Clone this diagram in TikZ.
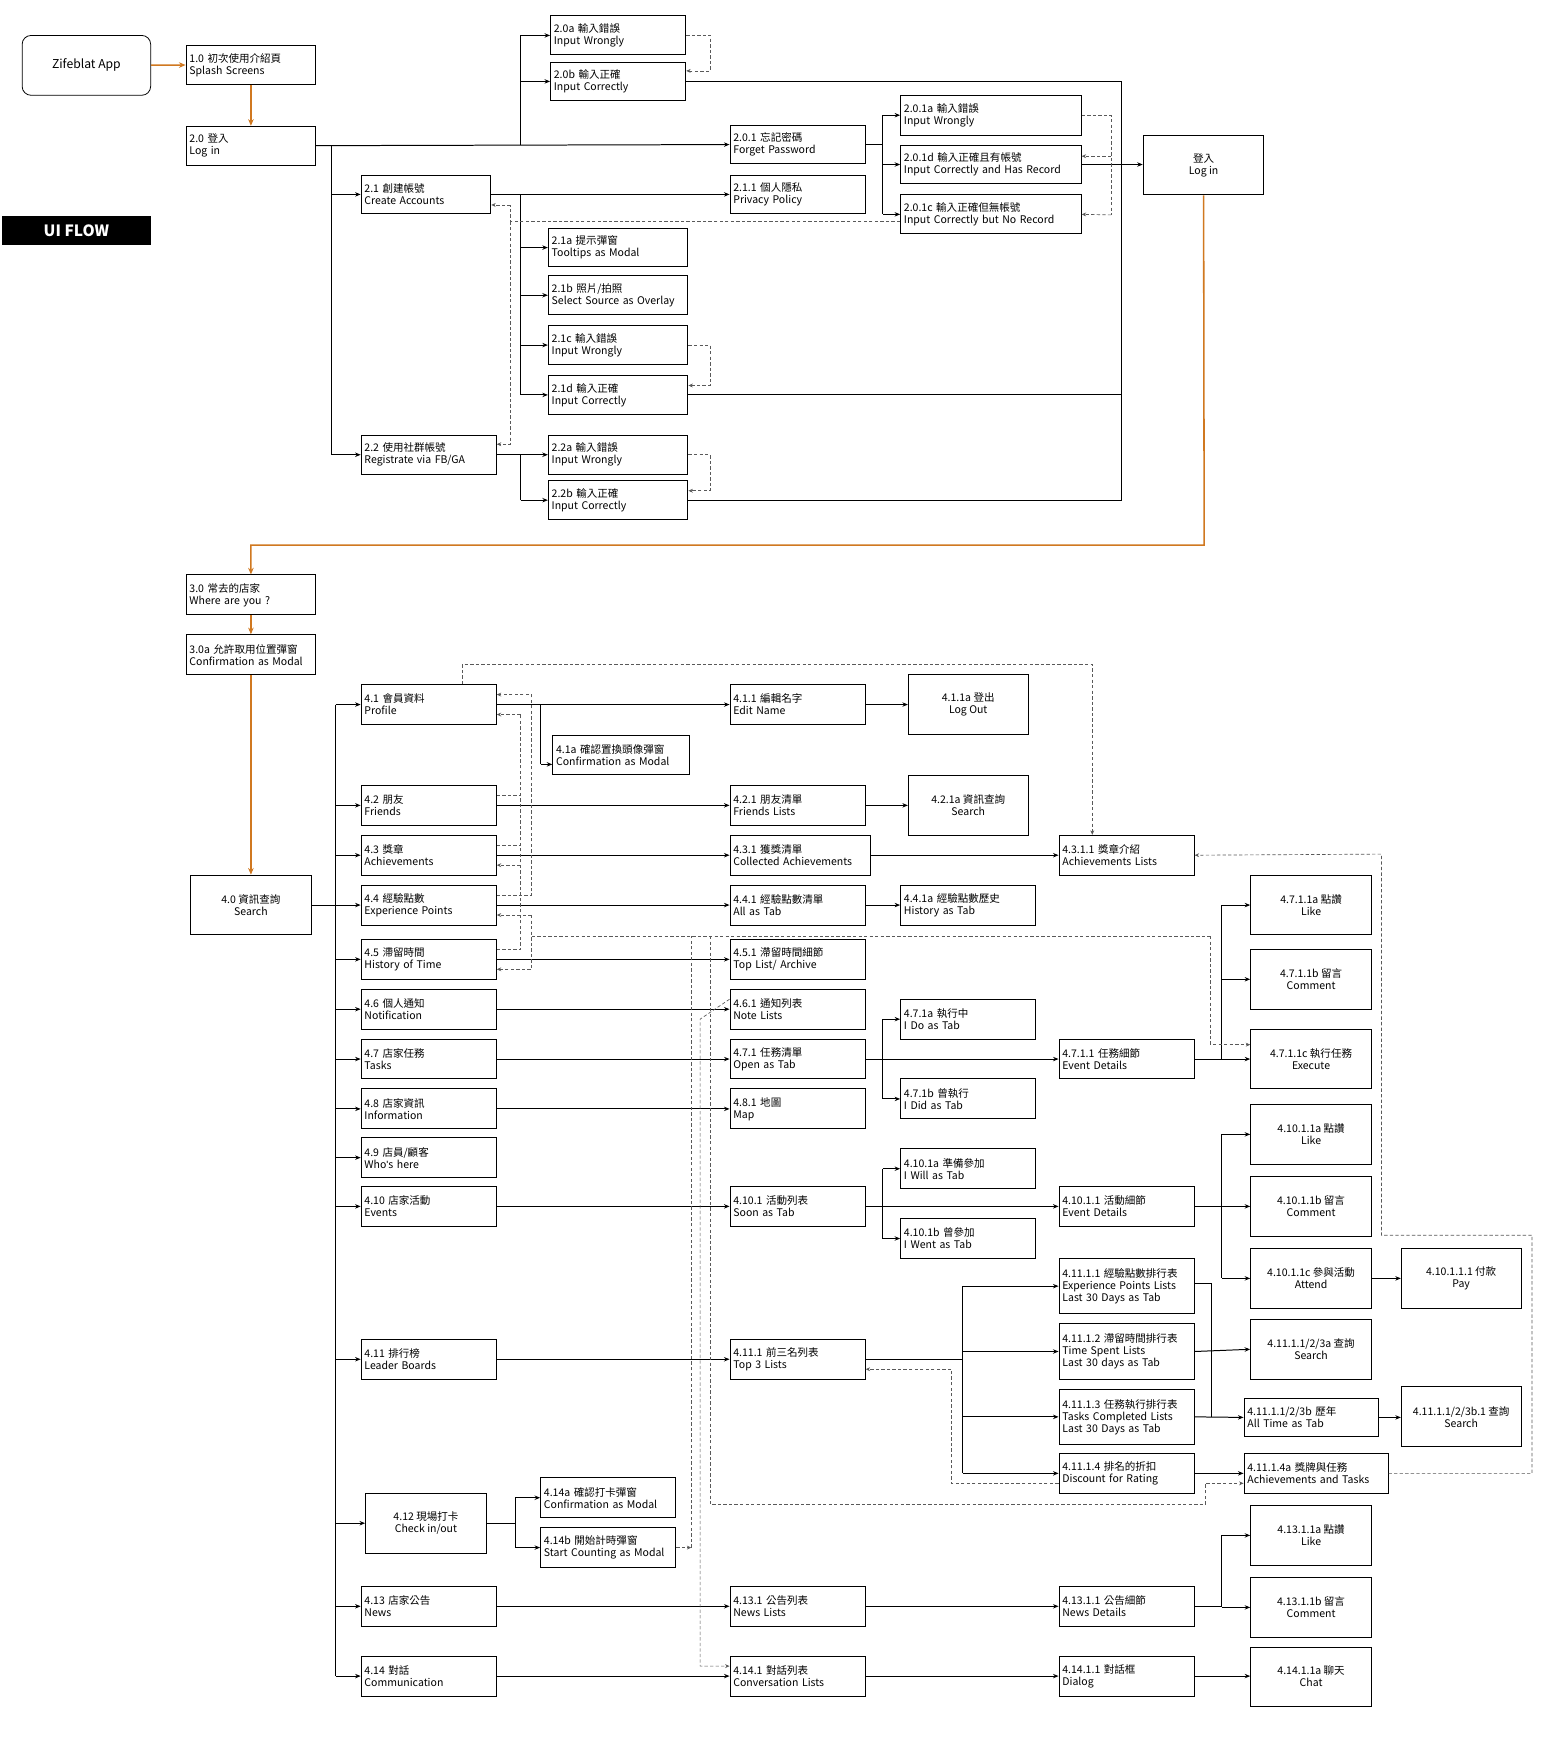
\documentclass[tikz,border=0pt]{standalone}
\usepackage{fontspec}
\setmainfont{Noto Sans CJK TC}
\newfontfamily\lat{Liberation Sans}
\usetikzlibrary{arrows.meta}
\definecolor{org}{HTML}{D07820}
\begin{document}
\begin{tikzpicture}[x=1pt,y=-1pt,
  box/.style={draw,line width=0.9pt,align=left,inner xsep=3pt,inner ysep=1pt,font=\fontsize{9.5}{10.8}\selectfont},
  cbox/.style={draw,line width=0.9pt,align=center,inner sep=1pt,font=\fontsize{9.5}{10.8}\selectfont},
  ln/.style={line width=0.9pt},
  arr/.style={line width=0.9pt,-{Stealth[length=5pt,width=4pt]}},
  oarr/.style={line width=1.4pt,org,-{Stealth[length=6pt,width=5pt]}},
  dsh/.style={line width=0.6pt,gray!70!black,dashed,dash pattern=on 3pt off 2pt,-{Stealth[length=4pt,width=3.5pt]}},
  dln/.style={line width=0.6pt,gray!70!black,dash pattern=on 3pt off 2pt}]
\newcommand\bx[6]{\pgfmathsetmacro\bw{#4-#2}\pgfmathsetmacro\bh{#5-#3}\pgfmathsetmacro\tw{#4-#2-6}%
\node[box,minimum width=\bw pt,minimum height=\bh pt,text width=\tw pt] (#1) at ({(#2+#4)/2},{(#3+#5)/2}) {#6};}
\newcommand\cbx[6]{\pgfmathsetmacro\bw{#4-#2}\pgfmathsetmacro\bh{#5-#3}%
\node[cbox,minimum width=\bw pt,minimum height=\bh pt] (#1) at ({(#2+#4)/2},{(#3+#5)/2}) {#6};}
\useasboundingbox[fill=white] (0,0) rectangle (1410,1568);
% ---------- top ----------
\node[draw,rounded corners=8pt,line width=0.7pt,minimum width=116pt,minimum height=54pt,font=\fontsize{11}{12}\selectfont] (app) at (78,59) {Zifeblat App};
\node[fill=black,text=white,minimum width=134pt,minimum height=26pt,font=\fontsize{14}{15}\selectfont\bfseries] (uif) at (69,208) {UI FLOW};
\bx{n10}{168}{41}{285}{76}{1.0 初次使用介紹頁\\Splash Screens}
\bx{n20}{168}{114}{285}{149}{2.0 登入\\Log in}
\bx{n20a}{497}{14}{619}{49}{2.0a 輸入錯誤\\Input Wrongly}
\bx{n20b}{497}{56}{619}{91}{2.0b 輸入正確\\Input Correctly}
\bx{n201}{659}{113}{781}{148}{2.0.1 忘記密碼\\Forget Password}
\bx{n201a}{813}{86}{976}{122}{2.0.1a 輸入錯誤\\Input Wrongly}
\bx{n201d}{813}{131}{976}{166}{2.0.1d 輸入正確且有帳號\\Input Correctly and Has Record}
\bx{n201c}{813}{176}{976}{211}{2.0.1c 輸入正確但無帳號\\Input Correctly but No Record}
\cbx{login}{1032}{122}{1141}{176}{登入\\Log in}
\bx{n21}{326}{158}{443}{193}{2.1 創建帳號\\Create Accounts}
\bx{n211}{659}{158}{781}{193}{2.1.1 個人隱私\\Privacy Policy}
\bx{n21a}{495}{206}{621}{241}{2.1a 提示彈窗\\Tooltips as Modal}
\bx{n21b}{495}{249}{621}{284}{2.1b 照片/拍照\\Select Source as Overlay}
\bx{n21c}{495}{294}{621}{329}{2.1c 輸入錯誤\\Input Wrongly}
\bx{n21d}{495}{339}{621}{374}{2.1d 輸入正確\\Input Correctly}
\bx{n22}{326}{393}{448}{428}{2.2 使用社群帳號\\Registrate via FB/GA}
\bx{n22a}{495}{393}{621}{428}{2.2a 輸入錯誤\\Input Wrongly}
\bx{n22b}{495}{434}{621}{469}{2.2b 輸入正確\\Input Correctly}
\draw[oarr] (app) -- (n10);
\draw[oarr] (n10) -- (n20);
\draw[arr] (n20.east) -- (n201.west);
\draw[ln] (470,131) -- (470,32);
\draw[arr] (470,32) -- (n20a.west |- 0,32);
\draw[arr] (470,73.5) -- (n20b.west);
\draw[ln] (299,131) -- (299,410.5);
\draw[arr] (299,175.5) -- (n21.west);
\draw[arr] (299,410.5) -- (n22.west);
\draw[arr] (n21.east) -- (n211.west);
\draw[ln] (470,175.5) -- (470,356.5);
\foreach \n in {n21a,n21b,n21c,n21d} \draw[arr] (470,0 |- \n.west) -- (\n.west);
\draw[arr] (n22.east) -- (n22a.west);
\draw[ln] (470,410.5) -- (470,451.5);
\draw[arr] (470,451.5) -- (n22b.west);
\draw[ln] (n201.east) -- (797,130.5);
\draw[ln] (797,104) -- (797,193.5);
\foreach \n in {n201a,n201d,n201c} \draw[arr] (797,0 |- \n.west) -- (\n.west);
\draw[arr] (n201d.east) -- (login.west |- n201d.east);
\draw[ln] (n20b.east) -| (1012,148.5);
\draw[ln] (n21d.east) -| (1012,148.5);
\draw[ln] (n22b.east) -| (1012,148.5);
\draw[dsh] (n20a.east) -- (641,31.5) -- (641,64) -- ([yshift=9.5pt]n20b.east);
\draw[dsh] (n21c.east) -- (641,311.5) -- (641,348) -- ([yshift=8.5pt]n21d.east);
\draw[dsh] (n22a.east) -- (641,410.5) -- (641,443) -- ([yshift=8.5pt]n22b.east);
\draw[dln] (n201a.east) -- (1003,104) -- (1003,194);
\draw[dsh] (1003,141) -- ([yshift=7.5pt]n201d.east);
\draw[dsh] (1003,194) -- (n201c.east);
\draw[dln] ([yshift=-6.5pt]n201c.west) -- (461,200) -- (461,185);
\draw[dsh] (461,185) -- ([yshift=-9.5pt]n21.east);
\draw[dsh] (461,200) -- (461,401) -- ([yshift=9.5pt]n22.east);
% ---------- middle ----------
\bx{n30}{168}{519}{285}{555}{3.0 常去的店家\\Where are you ?}
\bx{n30a}{168}{573}{285}{609}{3.0a 允許取用位置彈窗\\Confirmation as Modal}
\cbx{n40}{172}{790}{281}{844}{4.0 資訊查詢\\Search}
\draw[oarr] (login.south) -- (1087,492) -| (n30.north);
\draw[oarr] (n30) -- (n30a);
\draw[oarr] (n30a) -- (n40);
% left column
\bx{n41}{326}{618}{448}{654}{4.1 會員資料\\Profile}
\bx{n42}{326}{709}{448}{745}{4.2 朋友\\Friends}
\bx{n43}{326}{754}{448}{790}{4.3 獎章\\Achievements}
\bx{n44}{326}{799}{448}{835}{4.4 經驗點數\\Experience Points}
\bx{n45}{326}{848}{448}{884}{4.5 滯留時間\\History of Time}
\bx{n46}{326}{893}{448}{929}{4.6 個人通知\\Notification}
\bx{n47}{326}{938}{448}{974}{4.7 店家任務\\Tasks}
\bx{n48}{326}{983}{448}{1019}{4.8 店家資訊\\Information}
\bx{n49}{326}{1027}{448}{1063}{4.9 店員/顧客\\Who{\lat'}s here}
\bx{n410}{326}{1071}{448}{1107}{4.10 店家活動\\Events}
\bx{n411}{326}{1209}{448}{1245}{4.11 排行榜\\Leader Boards}
\cbx{n412}{330}{1348}{439}{1402}{4.12 現場打卡\\Check in/out}
\bx{n413}{326}{1432}{448}{1468}{4.13 店家公告\\News}
\bx{n414}{326}{1495}{448}{1531}{4.14 對話\\Communication}
\draw[ln] (n40.east) -- (303,817);
\draw[ln] (303,636) -- (303,1513);
\foreach \n in {n41,n42,n43,n44,n45,n46,n47,n48,n49,n410,n411,n412,n413,n414} \draw[arr] (303,0 |- \n.west) -- (\n.west);
% second column
\bx{n41a}{499}{664}{622}{699}{4.1a 確認置換頭像彈窗\\Confirmation as Modal}
\bx{n411e}{659}{618}{781}{654}{4.1.1 編輯名字\\Edit Name}
\bx{n421}{659}{709}{781}{745}{4.2.1 朋友清單\\Friends Lists}
\bx{n431}{659}{754}{786}{790}{4.3.1 獲獎清單\\Collected Achievements}
\bx{n441}{659}{799}{781}{835}{4.4.1 經驗點數清單\\All as Tab}
\bx{n451}{659}{848}{781}{884}{4.5.1 滯留時間細節\\Top List/ Archive}
\bx{n461}{659}{893}{781}{929}{4.6.1 通知列表\\Note Lists}
\bx{n471}{659}{938}{781}{974}{4.7.1 任務清單\\Open as Tab}
\bx{n481}{659}{983}{781}{1019}{4.8.1 地圖\\Map}
\bx{n4101}{659}{1071}{781}{1107}{4.10.1 活動列表\\Soon as Tab}
\bx{n4111}{659}{1209}{781}{1245}{4.11.1 前三名列表\\Top 3 Lists}
\bx{n4131}{659}{1432}{781}{1468}{4.13.1 公告列表\\News Lists}
\bx{n4141}{659}{1495}{781}{1531}{4.14.1 對話列表\\Conversation Lists}
\bx{n414a}{488}{1334}{610}{1370}{4.14a 確認打卡彈窗\\Confirmation as Modal}
\bx{n414b}{488}{1379}{610}{1415}{4.14b 開始計時彈窗\\Start Counting as Modal}
\draw[arr] (n41.east) -- (n411e.west);
\draw[ln] (488,636) -- (488,690);
\draw[arr] (488,690) -- ([yshift=-8.5pt]n41a.west);
\foreach \a/\b in {n42/n421,n43/n431,n44/n441,n45/n451,n46/n461,n47/n471,n48/n481,n410/n4101,n411/n4111,n413/n4131,n414/n4141}
  \draw[arr] (\a.east) -- (\b.west);
\draw[ln] (n412.east) -- (465,1375);
\draw[ln] (465,1352) -- (465,1397);
\draw[arr] (465,1352) -- (n414a.west);
\draw[arr] (465,1397) -- (n414b.west);
% third column
\cbx{n411a}{820}{609}{928}{663}{4.1.1a 登出\\Log Out}
\cbx{n421a}{820}{700}{928}{754}{4.2.1a 資訊查詢\\Search}
\bx{n4311}{956}{754}{1078}{790}{4.3.1.1 獎章介紹\\Achievements Lists}
\bx{n441a}{813}{799}{935}{835}{4.4.1a 經驗點數歷史\\History as Tab}
\bx{n471a}{813}{902}{935}{938}{4.7.1a 執行中\\I Do as Tab}
\bx{n471b}{813}{974}{935}{1010}{4.7.1b 曾執行\\I Did as Tab}
\bx{n4711}{956}{938}{1078}{974}{4.7.1.1 任務細節\\Event Details}
\bx{n4101a}{813}{1037}{935}{1073}{4.10.1a 準備參加\\I Will as Tab}
\bx{n4101b}{813}{1100}{935}{1136}{4.10.1b 曾參加\\I Went as Tab}
\bx{n41011}{956}{1071}{1078}{1107}{4.10.1.1 活動細節\\Event Details}
\bx{n41111}{956}{1136}{1078}{1186}{4.11.1.1 經驗點數排行表\\Experience Points Lists\\Last 30 Days as Tab}
\bx{n41112}{956}{1195}{1078}{1245}{4.11.1.2 滯留時間排行表\\Time Spent Lists\\Last 30 days as Tab}
\bx{n41113}{956}{1254}{1078}{1304}{4.11.1.3 任務執行排行表\\Tasks Completed Lists\\Last 30 Days as Tab}
\bx{n41114}{956}{1312}{1078}{1348}{4.11.1.4 排名的折扣\\Discount for Rating}
\bx{n41311}{956}{1432}{1078}{1468}{4.13.1.1 公告細節\\News Details}
\bx{n41411}{956}{1495}{1078}{1531}{4.14.1.1 對話框\\Dialog}
\draw[arr] (n411e.east) -- (n411a.west |- n411e.east);
\draw[arr] (n421.east) -- (n421a.west |- n421.east);
\draw[arr] (n431.east) -- (n4311.west);
\draw[arr] (n441.east) -- (n441a.west);
\draw[arr] (n471.east) -- (n4711.west);
\draw[ln] (797,920) -- (797,992);
\draw[arr] (797,920) -- (n471a.west);
\draw[arr] (797,992) -- (n471b.west);
\draw[arr] (n4101.east) -- (n41011.west);
\draw[ln] (797,1055) -- (797,1118);
\draw[arr] (797,1055) -- (n4101a.west);
\draw[arr] (797,1118) -- (n4101b.west);
\draw[ln] (n4111.east) -- (869,1227);
\draw[ln] (869,1161) -- (869,1330);
\foreach \n in {n41111,n41112,n41113,n41114} \draw[arr] (869,0 |- \n.west) -- (\n.west);
\draw[arr] (n4131.east) -- (n41311.west);
\draw[arr] (n4141.east) -- (n41411.west);
% right columns
\cbx{n4711a}{1129}{790}{1238}{844}{4.7.1.1a 點讚\\Like}
\cbx{n4711b}{1129}{857}{1238}{911}{4.7.1.1b 留言\\Comment}
\cbx{n4711c}{1129}{929}{1238}{983}{4.7.1.1c 執行任務\\Execute}
\cbx{n41011a}{1129}{997}{1238}{1051}{4.10.1.1a 點讚\\Like}
\cbx{n41011b}{1129}{1062}{1238}{1116}{4.10.1.1b 留言\\Comment}
\cbx{n41011c}{1129}{1127}{1238}{1181}{4.10.1.1c 參與活動\\Attend}
\cbx{n410111}{1265}{1127}{1373}{1181}{4.10.1.1.1 付款\\Pay}
\cbx{n4111s}{1129}{1191}{1238}{1245}{4.11.1.1/2/3a 查詢\\Search}
\bx{n4111b}{1123}{1262}{1244}{1297}{4.11.1.1/2/3b 歷年\\All Time as Tab}
\cbx{n4111bs}{1265}{1252}{1373}{1306}{4.11.1.1/2/3b.1 查詢\\Search}
\bx{n41114a}{1123}{1312}{1253}{1348}{4.11.1.4a 獎牌與任務\\Achievements and Tasks}
\cbx{n41311a}{1129}{1359}{1238}{1413}{4.13.1.1a 點讚\\Like}
\cbx{n41311b}{1129}{1424}{1238}{1478}{4.13.1.1b 留言\\Comment}
\cbx{n41411a}{1129}{1487}{1238}{1540}{4.14.1.1a 聊天\\Chat}
\draw[ln] (n4711.east) -- (1103,956);
\draw[ln] (1103,817) -- (1103,956);
\foreach \n in {n4711a,n4711b,n4711c} \draw[arr] (1103,0 |- \n.west) -- (\n.west);
\draw[ln] (n41011.east) -- (1103,1089);
\draw[ln] (1103,1024) -- (1103,1154);
\foreach \n in {n41011a,n41011b,n41011c} \draw[arr] (1103,0 |- \n.west) -- (\n.west);
\draw[arr] (n41011c.east) -- (n410111.west);
\draw[arr] (n41112.east) -- (n4111s.west);
\draw[ln] (n41111.east |- 0,1159) -- (1094,1159) -- (1094,1279);
\draw[arr] (n41113.east |- 0,1279) -- (n4111b.west);
\draw[arr] (n4111b.east) -- (n4111bs.west |- n4111b.east);
\draw[arr] (n41114.east) -- (n41114a.west);
\draw[ln] (n41311.east) -- (1103,1450);
\draw[ln] (1103,1386) -- (1103,1450);
\foreach \n in {n41311a,n41311b} \draw[arr] (1103,0 |- \n.west) -- (\n.west);
\draw[arr] (n41411.east) -- (n41411a.west |- n41411.east);
% dashed lower
\draw[dsh] ([xshift=30pt]n41.north) -- (417,600) -- (986,600) -- ([xshift=-31pt]n4311.north);
\draw[dsh] ([yshift=9pt]n44.east) -- (480,808) -- (480,627) -- ([yshift=9pt]n41.east);
\draw[dln] ([yshift=9pt]n42.east) -- (470,718);
\draw[dln] ([yshift=9pt]n43.east) -- (470,763);
\draw[dln] ([yshift=9pt]n45.east) -- (470,857) -- (470,645);
\draw[dsh] (470,645) -- ([yshift=-9pt]n41.east);
\draw[dsh] (470,781) -- ([yshift=-9pt]n43.east);
\draw[dln] (624,1397) -- (624,845);
\draw[dsh] (n414b.east) -- (624,1397);
\draw[dln] (480,845) -- (1093,845);
\draw[dsh] (1093,845) -- (1093,943) -- ([yshift=13pt]n4711c.west);
\draw[dsh] (480,826) -- (480,875) -- ([yshift=-9pt]n45.east);
\draw[dsh] (480,826) -- ([yshift=-9pt]n44.east);
\draw[dsh] (641,845) -- (641,1358) -- (1088,1358) -- (1088,1339) -- ([yshift=-9pt]n41114a.west);
\draw[dsh] ([yshift=9pt]n461.west) -- (632,920) -- (632,1504) -- ([yshift=9pt]n4141.west);
\draw[dsh] (n41114a.east) -- (1383,1330) -- (1383,1115) -- (1247,1115) -- (1247,771) -- (n4311.east);
\draw[dsh] ([yshift=-9pt]n41114.west) -- (859,1339) -- (859,1236) -- ([yshift=-9pt]n4111.east);
\end{tikzpicture}
\end{document}
